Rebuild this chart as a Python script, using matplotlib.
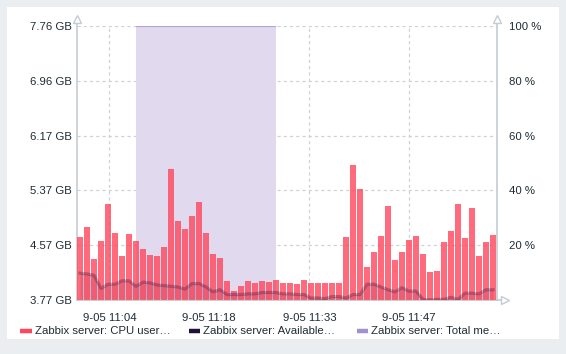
import numpy as np
import matplotlib
matplotlib.use("Agg")
import matplotlib.pyplot as plt
from matplotlib.lines import Line2D
from matplotlib.patches import Rectangle

# ---------------- data ----------------
cpu_user_pct = [23, 26.6, 15, 21.5, 35, 24.5, 16, 24, 21.5, 18.6, 16.4, 16, 19.3, 47.8, 29,
                26, 30.7, 35.8, 24.5, 16.8, 15.3, 6.9, 3.3, 5.1, 6.9, 6.2, 6.9, 6.6, 7.3, 6.2,
                6.2, 5.8, 7.3, 6.2, 6.2, 6.2, 6.2, 6.2, 23, 49.3, 40.5, 12, 17.5, 23.4, 34.3,
                14.6, 17.5, 21.9, 23.4, 16.8, 10.2, 10.6, 21.2, 25.2, 35, 22.6, 33.6, 16, 21.2, 23.7]

available_gb = [4.16, 4.15, 4.13, 3.94, 4.00, 4.00, 4.05, 4.05, 3.97, 4.03, 4.02, 3.99, 3.98, 3.97, 3.96,
                3.93, 4.01, 4.01, 3.96, 3.89, 3.92, 3.85, 3.85, 3.85, 3.86, 3.86, 3.88, 3.88, 3.88, 3.86,
                3.86, 3.85, 3.85, 3.80, 3.80, 3.79, 3.82, 3.82, 3.80, 3.85, 3.85, 4.00, 4.00, 3.96, 3.92,
                3.89, 3.95, 3.90, 3.90, 3.78, 3.77, 3.78, 3.78, 3.81, 3.78, 3.87, 3.87, 3.86, 3.92, 3.92]

total_mem_gb = [None] * 8 + [7.76] * 21 + [None] * 31

gb_min, gb_max = 3.77, 7.76
gb_tick_labels = ["3.77 GB", "4.57 GB", "5.37 GB", "6.17 GB", "6.96 GB", "7.76 GB"]
pct_ticks = [20, 40, 60, 80, 100]
pct_tick_labels = ["20 %", "40 %", "60 %", "80 %", "100 %"]
time_tick_minutes = [4.19, 18.47, 32.76, 47.04]
time_tick_labels = ["9-05 11:04", "9-05 11:18", "9-05 11:33", "9-05 11:47"]
legend_labels = ["Zabbix server: CPU user…", "Zabbix server: Available…", "Zabbix server: Total me…"]

# ---------------- style ----------------
RED = "#ff465c"
DARK = "#22103a"
LAV = "#a48fcf"
TXT = "#1f2c33"
GRID = "#cdd2d6"
AXC = "#c5ccd1"
FS = 8.2
plt.rcParams["font.family"] = ["Liberation Sans", "DejaVu Sans"]

W, H = 566, 354
fig = plt.figure(figsize=(W / 100, H / 100), dpi=100, facecolor="#ebeef0")

def fx(px):
    return px / W

def fy(py):
    return (H - py) / H

# white panel
fig.add_artist(Rectangle((fx(7), fy(339)), fx(559) - fx(7), fy(7) - fy(339),
                         transform=fig.transFigure, facecolor="white", edgecolor="none", zorder=0))

ax = fig.add_axes([fx(77), fy(300), fx(497) - fx(77), fy(26) - fy(300)])
ax.set_facecolor("none")
ax2 = ax.twinx()

n = len(cpu_user_pct)
x = np.arange(n)
xlim = (-0.43, n - 0.43)
ax.set_xlim(*xlim)
ax.set_ylim(gb_min, gb_max)
ax2.set_ylim(0, 100)

# grid
ax.set_yticks(np.linspace(gb_min, gb_max, len(gb_tick_labels)))
ax.set_yticklabels(gb_tick_labels)
ax.set_xticks(time_tick_minutes)
ax.set_xticklabels(time_tick_labels)
ax.grid(True, color=GRID, linestyle=(0, (2.5, 2.5)), linewidth=0.9, zorder=0)
ax.set_axisbelow(True)

# total memory area
tm = np.array([np.nan if v is None else v for v in total_mem_gb], dtype=float)
mask = ~np.isnan(tm)
ax.fill_between(x[mask], gb_min, tm[mask], color="#e1daee", linewidth=0, zorder=1)
ax.plot(x[mask], tm[mask], color="#b5a3da", linewidth=1.6, zorder=2, solid_capstyle="butt")

# available memory fill (behind bars)
av = np.array(available_gb)
ax.fill_between(x, gb_min, av, color="#7d86a8", alpha=0.55, linewidth=0, zorder=2)

# CPU bars
ax2.bar(x, cpu_user_pct, width=0.86, color=RED, alpha=0.8, linewidth=0, zorder=3)

# available memory line on top
ax2.plot(x, av, color=DARK, alpha=0.3, linewidth=2.3, transform=ax.transData, zorder=5,
         solid_joinstyle="round")
ax2.set_xlim(*xlim)

ax2.set_yticks(pct_ticks)
ax2.set_yticklabels(pct_tick_labels)

for a in (ax, ax2):
    for s in a.spines.values():
        s.set_visible(False)
ax.tick_params(axis="y", length=0, pad=4, labelsize=FS, labelcolor=TXT)
ax.tick_params(axis="x", length=0, pad=9.5, labelsize=FS, labelcolor=TXT)
ax2.tick_params(axis="y", length=0, pad=9, labelsize=FS, labelcolor=TXT)

# axis lines with hollow arrows
top_ext = (300 - 19) / 274
ax.plot([0, 0], [0, top_ext], transform=ax.transAxes, color=AXC, lw=1.2, clip_on=False, zorder=6)
ax.plot([1, 1], [0, top_ext], transform=ax.transAxes, color=AXC, lw=1.2, clip_on=False, zorder=6)
ax.plot([0, 1.017], [0, 0], transform=ax.transAxes, color=AXC, lw=1.2, clip_on=False, zorder=6)
for (px_, py_, m) in [(0, top_ext, "^"), (1, top_ext, "^"), (1.019, 0, ">")]:
    ax.plot([px_], [py_], marker=m, markersize=6, markerfacecolor="white",
            markeredgecolor=AXC, markeredgewidth=1.0, transform=ax.transAxes,
            clip_on=False, zorder=7)

# legend
leg_y = 331
leg_items = [(20, 32, 35, RED), (189, 200, 203, DARK), (357, 368, 371, LAV)]
for (x0, x1, tx, c), lab in zip(leg_items, legend_labels):
    fig.add_artist(Line2D([fx(x0), fx(x1)], [fy(leg_y), fy(leg_y)], transform=fig.transFigure,
                          color=c, linewidth=3.2, solid_capstyle="butt"))
    fig.text(fx(tx), fy(leg_y), lab, fontsize=FS, color=TXT, va="center", ha="left")

fig.savefig("out.png", dpi=100, facecolor=fig.get_facecolor())
